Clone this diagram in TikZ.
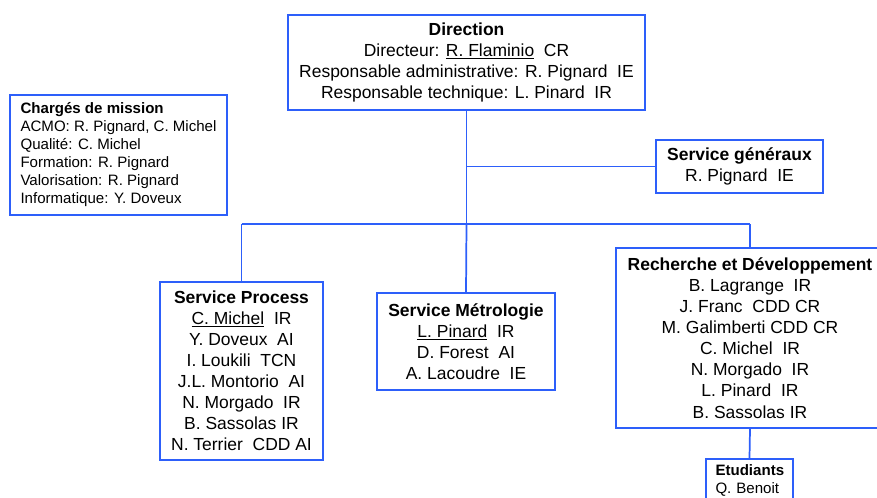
\documentclass[tikz,border=0pt]{standalone}
\usepackage{fontspec}
\setmainfont{Liberation Sans}
\usetikzlibrary{positioning,calc}
\definecolor{orgblue}{RGB}{45,95,250}

\begin{document}
\begin{tikzpicture}[
    x=0.75pt, y=-0.75pt,
    box/.style={draw=orgblue, line width=1.3pt, fill=white, align=center, inner sep=0pt,
                font=\fontsize{13.1}{15.8}\selectfont},
    smallbox/.style={box, align=left, font=\fontsize{11.3}{13.5}\selectfont},
    link/.style={draw=orgblue, line width=1.3pt}
]
\clip (0,0) rectangle (877,497);
\useasboundingbox (0,0) rectangle (877,497);

% Direction
\node[box, minimum width=357*0.75pt, minimum height=95*0.75pt] (dir) at (466.5,62.5)
  {\textbf{Direction}\\Directeur: \underline{R. Flaminio}\ \ CR\\
   Responsable administrative: R. Pignard\ \ IE\\Responsable technique: L. Pinard\ \ IR};

% Charges de mission
\node[smallbox, minimum width=217*0.75pt, minimum height=120*0.75pt] (miss) at (118.5,155)
  {\textbf{Chargés de mission}\\ACMO: R. Pignard, C. Michel\\Qualité: C. Michel\\
   Formation: R. Pignard\\Valorisation: R. Pignard\\Informatique: Y. Doveux};

% Service generaux
\node[box, minimum width=167*0.75pt, minimum height=53*0.75pt] (gen) at (739.5,166.5)
  {\textbf{Service généraux}\\R. Pignard\ \ IE};

% Services
\node[box, minimum width=163*0.75pt, minimum height=178*0.75pt] (proc) at (241.5,371)
  {\textbf{Service Process}\\\underline{C. Michel}\ \ IR\\Y. Doveux\ \ AI\\I. Loukili\ \ TCN\\
   J.L. Montorio\ \ AI\\N. Morgado\ \ IR\\B. Sassolas IR\\N. Terrier\ \ CDD AI};
\node[box, minimum width=178*0.75pt, minimum height=97*0.75pt] (metro) at (466,341.5)
  {\textbf{Service Métrologie}\\\underline{L. Pinard}\ \ IR\\D. Forest\ \ AI\\A. Lacoudre\ \ IE};
\node[box, minimum width=268*0.75pt, minimum height=180*0.75pt] (rd) at (750,338)
  {\textbf{Recherche et Développement}\\B. Lagrange\ \ IR\\J. Franc\ \ CDD CR\\
   M. Galimberti CDD CR\\C. Michel\ \ IR\\N. Morgado\ \ IR\\L. Pinard\ \ IR\\B. Sassolas IR};

% Etudiants
\node[smallbox, anchor=north, inner xsep=9.5*0.75pt, inner ysep=4.5pt, text depth=24pt,
      text width=68*0.75pt, align=left] (etu) at (749.5,458)
  {\textbf{Etudiants}\\Q. Benoit};

% Links
\coordinate (bus) at (dir.south |- 0,224);
\draw[link] (dir.south) -- (bus);
\draw[link] (dir.south |- gen.west) -- (gen.west);
\draw[link] (proc.north |- bus) -- (rd.north |- bus);
\draw[link] (proc.north |- bus) -- (proc.north);
\draw[link] (bus) -- (metro.north);
\draw[link] (rd.north |- bus) -- (rd.north);
\draw[link] (rd.south) -- (etu.north);

\end{tikzpicture}
\end{document}
